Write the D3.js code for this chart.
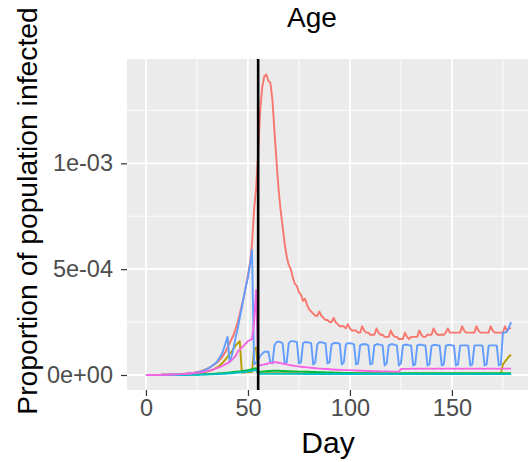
<!DOCTYPE html>
<html>
<head>
<meta charset="utf-8">
<script src="https://cdn.jsdelivr.net/npm/d3@7"></script>
<style>
  html, body { margin: 0; padding: 0; background: #fff; }
  svg { display: block; font-family: "Liberation Sans", Arial, sans-serif; }
</style>
</head>
<body>
<svg id="chart" width="528" height="462"></svg>
<script>
// ---- data (values in units of 1e-5, one value per day 0..179) ----
const UNIT = 1e-5;
const title = "Age";
const xTitle = "Day";
const yTitle = "Proportion of population infected";
const xTickValues = [0, 50, 100, 150];
const yTickValues = [0, 5e-4, 1e-3];
const yTickLabels = ["0e+00", "5e-04", "1e-03"];
const interventionDay = 55;
const groups = ["group1", "group2", "group3", "group4", "group5", "group6"];
const colors = ["#F8766D", "#B79F00", "#00BA38", "#00BFC4", "#619CFF", "#F564E3"];

const red = [
0,0,0,0,0,0,0,0,0.1,0.1,
0.1,0.2,0.2,0.2,0.3,0.3,0.4,0.4,0.5,0.6,
0.7,0.8,0.9,1.0,1.2,1.4,1.6,1.9,2.2,2.6,
3.0,3.5,4.0,4.6,5.3,6.0,7.0,8.0,9.5,11,
13,15,17,19,22,25,29,33,37,42,
47,53,62,78,88,105,125,136,141,142,
139,138,130,115,101,88,78,70,62,56,
52,50,46,43,42,39,38,35,36,33,
31,30,29,28,28,30,28,27,26,26,
25,25,27,25,24,23,23,23,22,24,
22,21,21,21,20,20,23,21,20,20,
19,19,19,22,20,19,19,18,18,18,
21,19,18,18,17,17,17,20,18,17,
18,18,18,18,21,19,18,18,19,19,
19,22,20,19,19,19,19,20,22,20,
20,20,20,20,20,23,21,20,20,20,
20,20,23,21,20,20,20,20,20,23,
21,20,20,20,20,20,23,21,22,22];

const olive = [
0,0,0,0,0,0,0,0,0.1,0.1,
0.1,0.1,0.2,0.2,0.2,0.3,0.3,0.3,0.4,0.4,
0.5,0.6,0.6,0.7,0.8,0.9,1.0,1.1,1.2,1.4,
1.6,1.9,2.2,2.6,3.1,3.7,4.4,5.2,6.2,7.4,
8.6,10,11,12.5,14,15,16,1.2,1.2,1.3,
1.3,1.4,1.4,12,13,1.0,0.9,0.9,0.9,0.9,
0.9,0.9,0.9,0.9,0.9,0.9,0.9,0.8,0.8,0.8,
0.8,0.8,0.8,0.8,0.8,0.8,0.8,0.8,0.8,0.8,
0.8,0.8,0.8,0.8,0.8,0.7,0.7,0.7,0.7,0.7,
0.7,0.7,0.7,0.7,0.7,0.7,0.7,0.7,0.7,0.7,
0.7,0.7,0.7,0.7,0.7,0.7,0.7,0.7,0.7,0.7,
0.7,0.7,0.7,0.7,0.7,0.7,0.6,0.6,0.6,0.6,
0.6,0.6,0.6,0.6,0.6,0.6,0.6,0.6,0.6,0.6,
0.6,0.6,0.6,0.6,0.6,0.6,0.6,0.6,0.6,0.6,
0.6,0.6,0.6,0.6,0.6,0.6,0.6,0.6,0.6,0.6,
0.6,0.6,0.6,0.6,0.6,0.6,0.6,0.6,0.6,0.6,
0.6,0.6,0.6,0.6,0.6,0.6,0.6,0.6,0.6,0.6,
0.6,0.6,0.6,0.6,0.6,5,6.3,7.5,8.8,9.5];

const green = [
0,0,0,0,0,0,0,0,0,0,
0,0,0,0,0,0,0.1,0.1,0.1,0.1,
0.1,0.1,0.2,0.2,0.2,0.2,0.3,0.3,0.3,0.4,
0.4,0.5,0.5,0.6,0.6,0.7,0.8,0.9,1.0,1.0,
1.1,1.2,1.3,1.4,1.5,1.6,1.7,1.8,2.0,2.1,
2.3,2.5,2.7,3.0,3.2,1.6,1.5,1.6,1.7,1.8,
1.9,1.9,2.0,2.0,2.0,2.0,1.9,1.9,1.9,1.8,
1.8,1.8,1.7,1.7,1.7,1.6,1.6,1.6,1.5,1.5,
1.5,1.4,1.4,1.4,1.3,1.3,1.3,1.3,1.2,1.2,
1.2,1.2,1.1,1.1,1.1,1.1,1.0,1.0,1.0,1.0,
1.0,1.0,0.9,0.9,0.9,0.9,0.9,0.9,0.9,0.9,
0.9,0.9,0.9,0.9,0.9,0.9,0.9,0.9,0.9,0.9,
0.9,0.9,0.9,0.9,0.9,0.9,0.9,0.9,0.9,0.9,
0.9,0.9,0.9,0.9,0.9,0.9,0.9,0.9,0.9,0.9,
0.9,0.9,0.9,0.9,0.9,0.9,0.9,0.9,0.9,0.9,
0.9,0.9,0.9,0.9,0.9,0.9,0.9,0.9,0.9,0.9,
0.9,0.9,0.9,0.9,0.9,0.9,0.9,0.9,0.9,0.9,
0.9,0.9,0.9,0.9,0.9,0.9,0.9,0.9,0.9,0.9];

const cyan = [
0,0,0,0,0,0,0,0,0,0,
0,0,0,0,0,0,0,0,0,0,
0,0,0.1,0.1,0.1,0.1,0.1,0.2,0.2,0.2,
0.2,0.3,0.3,0.3,0.4,0.4,0.5,0.5,0.6,0.6,
0.7,0.8,0.8,0.9,1.0,1.1,1.2,1.3,1.4,1.5,
1.6,1.8,2.0,2.2,2.4,0.6,0.6,0.6,0.6,0.6,
0.6,0.6,0.6,0.6,0.6,0.6,0.6,0.6,0.6,0.6,
0.6,0.6,0.6,0.6,0.6,0.6,0.6,0.5,0.5,0.5,
0.5,0.5,0.5,0.5,0.5,0.5,0.5,0.5,0.5,0.5,
0.5,0.5,0.5,0.5,0.5,0.5,0.5,0.5,0.5,0.5,
0.5,0.5,0.5,0.5,0.5,0.5,0.5,0.5,0.5,0.5,
0.5,0.5,0.5,0.5,0.5,0.5,0.5,0.5,0.5,0.5,
0.4,0.4,0.4,0.4,0.4,0.4,0.4,0.4,0.4,0.4,
0.4,0.4,0.4,0.4,0.4,0.4,0.4,0.4,0.4,0.4,
0.4,0.4,0.4,0.4,0.4,0.4,0.4,0.4,0.4,0.4,
0.4,0.4,0.4,0.4,0.4,0.4,0.4,0.4,0.4,0.4,
0.4,0.4,0.4,0.4,0.4,0.4,0.4,0.4,0.4,0.4,
0.4,0.4,0.4,0.4,0.4,0.4,0.4,0.4,0.4,0.4];

const blue = [
0,0,0,0,0,0,0,0,0.1,0.1,
0.1,0.1,0.2,0.2,0.2,0.3,0.3,0.4,0.4,0.5,
0.6,0.7,0.8,0.9,1.0,1.2,1.4,1.7,2.0,2.4,
2.8,3.3,4.0,4.8,5.5,6.5,8,9.5,12,15,
18,6,9,13,18,22,27,32,37,42,
46,52,59,5,6,7,9,10,11,11,
11,6,5.5,14,15.5,15.8,15.5,15,5.5,6,
15,16,16,15.8,15.5,5.5,6,15,15.5,15.5,
15.3,15,5,6,14.5,15.5,15.5,15.2,15,5.5,
6,14.5,15,15.2,15,14.8,5,6,14.5,15,
15,14.8,14.5,5,5.5,14,14.5,14.5,14.5,14,
5,5.5,14,14.5,14.5,14.2,14,4.5,5.5,14,
14.5,14.5,14.2,14,4.5,5.5,14,14.3,14.3,14,
14,4.5,5,14,14.3,14.3,14,14,4.5,5,
13.8,14.2,14.2,14,13.8,4.5,5,13.8,14.2,14.2,
14,13.8,4.5,5,13.8,14,14,14,13.8,4.5,
5,13.8,14,14,14,13.8,4.5,5,13.8,14,
14,14,13.8,4.5,5,20,20,20.5,22.5,25];

const magenta = [
0,0,0,0,0,0,0,0,0.1,0.1,
0.1,0.1,0.2,0.2,0.2,0.3,0.3,0.4,0.4,0.5,
0.5,0.6,0.7,0.8,0.9,1.0,1.1,1.3,1.4,1.6,
1.8,2.0,2.3,2.6,3.0,3.3,3.7,4.1,4.6,5.1,
5.6,6.3,7,8,9,11,12,13,14,15,
16,16.5,17,25,40,5,4.5,4.8,5,5.2,
5.5,5.7,5.8,6,6,5.8,5.6,5.4,5.2,5,
4.8,4.6,4.5,4.3,4.2,4.0,3.9,3.8,3.7,3.6,
3.5,3.4,3.3,3.2,3.1,3.0,3.0,2.9,2.8,2.8,
2.7,2.6,2.6,2.5,2.5,2.4,2.4,2.3,2.3,2.3,
2.3,2.2,2.2,2.1,2.1,2.0,2.0,2.0,1.9,1.9,
1.9,1.8,1.8,1.8,1.8,1.7,1.7,1.7,1.7,1.7,
1.6,1.6,1.6,1.6,1.6,2.8,2.9,2.9,2.9,2.9,
3.0,3.0,2.9,3.0,3.0,3.0,2.9,3.0,3.0,3.0,
3.0,2.9,3.0,3.0,3.0,2.9,3.0,3.0,3.0,3.0,
3.0,2.9,3.0,3.0,3.0,2.9,3.0,3.0,3.0,3.0,
3.0,2.9,3.0,3.0,3.0,3.0,2.9,3.0,3.0,3.0,
3.0,3.0,2.9,3.0,3.0,3.0,3.0,3.0,3.0,3.0];

const seriesValues = [red, olive, green, cyan, blue, magenta];

// ---- layout ----
const svg = d3.select("#chart");
const W = 528, H = 462;
const panel = { left: 127, right: 528, top: 59, bottom: 390 };

svg.append("rect").attr("width", W).attr("height", H).attr("fill", "#fff");

const x = d3.scaleLinear().domain([-9.3, 187.3]).range([panel.left, panel.right]);
const y = d3.scaleLinear().domain([-7.09e-5, 1.4927e-3]).range([panel.bottom, panel.top]);

// panel background
svg.append("rect")
  .attr("x", panel.left).attr("y", panel.top)
  .attr("width", panel.right - panel.left).attr("height", panel.bottom - panel.top)
  .attr("fill", "#EBEBEB");

const grid = svg.append("g");
const xMinor = [25, 75, 125, 175];
const yMinor = [2.5e-4, 7.5e-4, 1.25e-3];
grid.selectAll(".xminor").data(xMinor).join("line")
  .attr("x1", d => x(d)).attr("x2", d => x(d))
  .attr("y1", panel.top).attr("y2", panel.bottom)
  .attr("stroke", "#fff").attr("stroke-width", 0.9);
grid.selectAll(".yminor").data(yMinor).join("line")
  .attr("y1", d => y(d)).attr("y2", d => y(d))
  .attr("x1", panel.left).attr("x2", panel.right)
  .attr("stroke", "#fff").attr("stroke-width", 0.9);
grid.selectAll(".xmajor").data(xTickValues).join("line")
  .attr("x1", d => x(d)).attr("x2", d => x(d))
  .attr("y1", panel.top).attr("y2", panel.bottom)
  .attr("stroke", "#fff").attr("stroke-width", 1.8);
grid.selectAll(".ymajor").data(yTickValues).join("line")
  .attr("y1", d => y(d)).attr("y2", d => y(d))
  .attr("x1", panel.left).attr("x2", panel.right)
  .attr("stroke", "#fff").attr("stroke-width", 1.8);

// lines
svg.append("clipPath").attr("id", "clip").append("rect")
  .attr("x", panel.left).attr("y", panel.top)
  .attr("width", panel.right - panel.left).attr("height", panel.bottom - panel.top);

const line = d3.line().x((d, i) => x(i)).y(d => y(d * UNIT));
const lines = svg.append("g").attr("clip-path", "url(#clip)");
seriesValues.forEach((vals, k) => {
  lines.append("path")
    .datum(vals)
    .attr("d", line)
    .attr("fill", "none")
    .attr("stroke", colors[k])
    .attr("stroke-width", 1.9)
    .attr("stroke-linejoin", "round")
    .attr("data-group", groups[k]);
});

// intervention vertical line
lines.append("line")
  .attr("x1", x(interventionDay)).attr("x2", x(interventionDay))
  .attr("y1", panel.top).attr("y2", panel.bottom)
  .attr("stroke", "#000").attr("stroke-width", 2.6);

// axes
const xAxis = svg.append("g")
  .attr("transform", `translate(0,${panel.bottom})`)
  .call(d3.axisBottom(x).tickValues(xTickValues).tickSize(6).tickPadding(3).tickFormat(d3.format("d")));
const yAxis = svg.append("g")
  .attr("transform", `translate(${panel.left},0)`)
  .call(d3.axisLeft(y).tickValues(yTickValues).tickSize(6).tickPadding(8).tickFormat((d, i) => yTickLabels[i]));

[xAxis, yAxis].forEach(a => {
  a.select(".domain").remove();
  a.selectAll(".tick line").attr("stroke", "#333").attr("stroke-width", 1.2);
  a.selectAll(".tick text").attr("fill", "#4D4D4D").attr("font-size", 23.5)
    .attr("font-family", "Liberation Sans, Arial, sans-serif");
});

// titles
svg.append("text")
  .attr("x", 312).attr("y", 27)
  .attr("text-anchor", "middle").attr("font-size", 28).attr("fill", "#000")
  .text(title);
svg.append("text")
  .attr("x", 328).attr("y", 453)
  .attr("text-anchor", "middle").attr("font-size", 30).attr("fill", "#000")
  .text(xTitle);
svg.append("text")
  .attr("transform", "translate(37,211) rotate(-90)")
  .attr("text-anchor", "middle").attr("font-size", 28.3).attr("fill", "#000")
  .text(yTitle);
</script>
</body>
</html>
